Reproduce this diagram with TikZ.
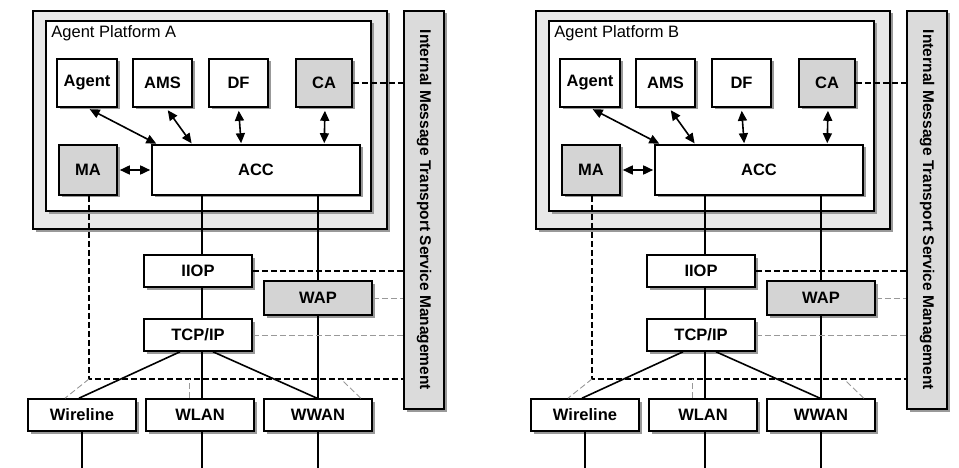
\documentclass[tikz,border=0pt]{standalone}
\usepackage{fontspec}
\setmainfont{Liberation Sans}
\usetikzlibrary{arrows.meta, shadows}

\begin{document}
\begin{tikzpicture}[x=1pt, y=-1pt,
    shade/.style={general shadow={fill=black!40, shadow xshift=2.5pt,
                  shadow yshift=-2.5pt}},
    frame/.style={draw, line width=1.6pt, inner sep=0pt, shade},
    box/.style={frame, fill=white, font=\fontsize{16.5}{19}\selectfont\bfseries},
    tinted/.style={fill=black!17},
    link/.style={line width=1.6pt},
    twoway/.style={link, {Triangle[length=10pt,width=9pt]}-{Triangle[length=10pt,width=9pt]},
                   shorten <=3pt, shorten >=1pt},
    mgmt/.style={line width=1.3pt, dash pattern=on 6pt off 3pt},
    faint/.style={mgmt, draw=black!40, line width=0.9pt}]
  \useasboundingbox (0,0) rectangle (959,468);
  \foreach \pf/\dx in {A/0, B/503} {
  \begin{scope}[xshift=\dx pt]
    \node[frame, fill=black!9, minimum width=354pt, minimum height=218pt] (\pf-host) at (210,120) {};
    \node[frame, fill=white, minimum width=325pt, minimum height=190pt] (\pf-plat) at (208.5,116) {};
    \node[anchor=north west, inner sep=0pt, font=\fontsize{16.5}{19}\selectfont]
      (\pf-title) at ([shift={(6,5)}]\pf-plat.north west) {Agent Platform \pf};
    \node[box, minimum width=60pt, minimum height=48pt] (\pf-agent) at (87,83) {Agent};
    \node[box, minimum width=59pt, minimum height=48pt] (\pf-ams) at (162.5,83) {AMS};
    \node[box, minimum width=59pt, minimum height=48pt] (\pf-df) at (238.5,83) {DF};
    \node[box, tinted, minimum width=56pt, minimum height=48pt] (\pf-ca) at (324,83) {CA};
    \node[box, tinted, minimum width=58pt, minimum height=50pt] (\pf-ma) at (88,170) {MA};
    \node[box, minimum width=208pt, minimum height=50pt] (\pf-acc) at (256,170) {ACC};
    \node[frame, fill=black!14, minimum width=40pt, minimum height=398pt,
          label={[rotate=-90, font=\fontsize{15.5}{18}\selectfont\bfseries]center:Internal Message Transport Service Management}]
      (\pf-imts) at (424,210) {};
    \node[box, minimum width=108pt, minimum height=32pt] (\pf-iiop) at (198,271) {IIOP};
    \node[box, tinted, minimum width=108pt, minimum height=34pt] (\pf-wap) at (318,298) {WAP};
    \node[box, minimum width=108pt, minimum height=32pt] (\pf-tcp) at (198,335) {TCP/IP};
    \node[box, minimum width=108pt, minimum height=32pt] (\pf-wire) at (82,415) {Wireline};
    \node[box, minimum width=108pt, minimum height=32pt] (\pf-wlan) at (200,415) {WLAN};
    \node[box, minimum width=108pt, minimum height=32pt] (\pf-wwan) at (318,415) {WWAN};
    \coordinate (\pf-bus) at (89,379);

    \draw[twoway] (\pf-agent.south) -- ([xshift=6pt]\pf-acc.north west);
    \draw[twoway] ([xshift=3.5pt]\pf-ams.south) -- ([xshift=41pt]\pf-acc.north west);
    \draw[twoway] (\pf-df.south) -- ([xshift=90pt]\pf-acc.north west);
    \draw[twoway] ([xshift=1pt]\pf-ca.south) -- ([xshift=173pt]\pf-acc.north west);
    \draw[twoway, shorten <=2pt] (\pf-ma.east) -- (\pf-acc.west);

    \draw[link] ([xshift=4pt]\pf-iiop.north) -- ([xshift=4pt]\pf-iiop.north |- \pf-acc.south);
    \draw[link] ([xshift=4pt]\pf-tcp.north) -- ([xshift=4pt]\pf-iiop.south);
    \draw[link] (\pf-wap.north) -- (\pf-wap.north |- \pf-acc.south);
    \draw[link] (\pf-wwan.north) -- (\pf-wap.south);
    \draw[link] ([xshift=2pt]\pf-wlan.north) -- ([xshift=4pt]\pf-tcp.south);
    \draw[link] ([xshift=-3pt]\pf-wire.north) -- ([xshift=-18pt]\pf-tcp.south);
    \draw[link] ([xshift=-1pt]\pf-wwan.north) -- ([xshift=15pt]\pf-tcp.south);
    \draw[link] (\pf-wire.south) -- ++(0,37);
    \draw[link] ([xshift=2pt]\pf-wlan.south) -- ++(0,37);
    \draw[link] (\pf-wwan.south) -- ++(0,37);

    \draw[mgmt] (\pf-ca.east) -- (\pf-ca.east -| \pf-imts.west);
    \draw[mgmt] (\pf-iiop.east) -- (\pf-iiop.east -| \pf-imts.west);
    \draw[faint] (\pf-wap.east) -- (\pf-wap.east -| \pf-imts.west);
    \draw[faint] (\pf-tcp.east) -- (\pf-tcp.east -| \pf-imts.west);
    \draw[mgmt] (\pf-ma.south -| \pf-bus) -- (\pf-bus) -- (\pf-bus -| \pf-imts.west);
    \draw[faint] (\pf-bus) -- ([xshift=-17pt]\pf-wire.north);
    \draw[faint] ([xshift=-11pt]\pf-wlan.north) -- ([xshift=-11pt]\pf-wlan.north |- \pf-bus);
    \draw[faint] ([xshift=-12pt]\pf-wwan.north east) -- ([xshift=-32pt]\pf-wwan.north east |- \pf-bus);
  \end{scope}
  }
\end{tikzpicture}
\end{document}
